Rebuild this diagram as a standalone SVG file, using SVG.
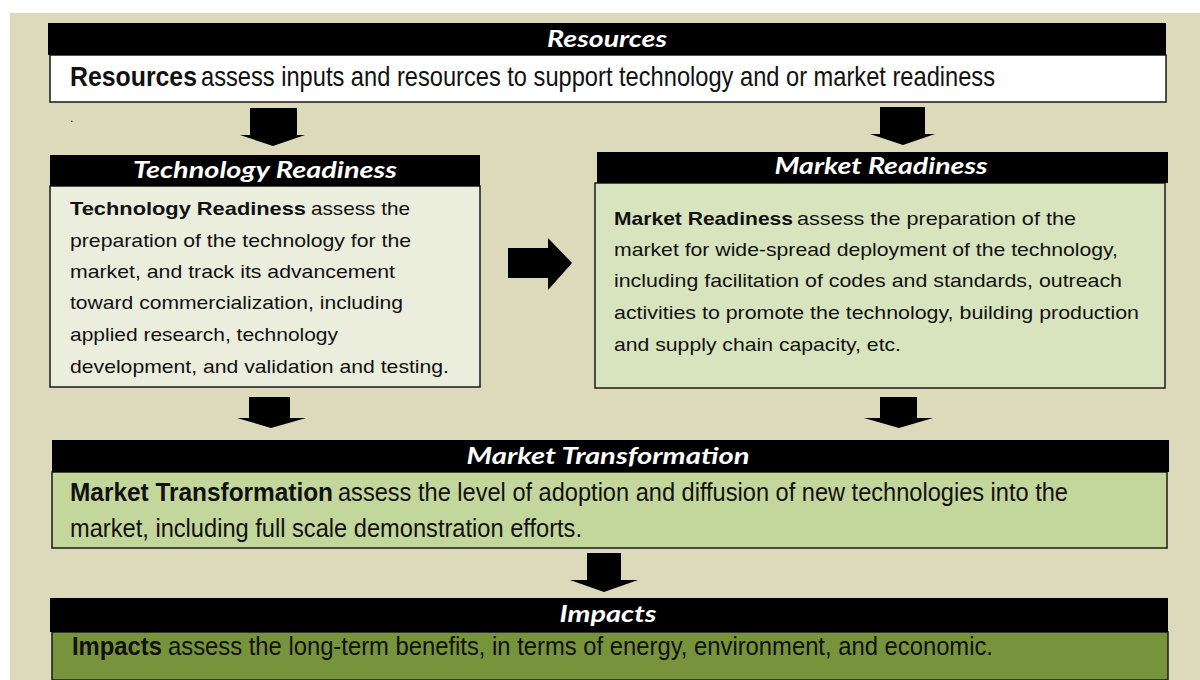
<svg xmlns="http://www.w3.org/2000/svg" width="1200" height="680" viewBox="0 0 1200 680">
<style>
.hdr{fill:#000}
.box{stroke:#1a1a1a;stroke-width:1.5}
.ttl{font-family:Lato,"Open Sans",sans-serif;font-style:italic;font-weight:bold;font-size:22px;fill:#fff;text-anchor:middle}
.b{font-family:"Liberation Sans",Arial,sans-serif;font-weight:bold;fill:#111}
.r{font-family:"Liberation Sans",Arial,sans-serif;fill:#111}
.arr{fill:#000}
</style>
<rect x="0" y="0" width="1200" height="680" fill="#fff"/>
<rect x="10" y="13" width="1190" height="667" fill="#ddd9bb"/>

<g id="connectors">
  <polygon class="arr" points="250,108 297,108 297,135 305,135 273,146 240,135 250,135"/>
  <polygon class="arr" points="880,107 925,107 925,134 935,134 903,145 870,134 880,134"/>
  <polygon class="arr" points="508,248 548,248 548,238 572,263 548,290 548,278 508,278"/>
  <polygon class="arr" points="249,397 290,397 290,418 306,418 271,428 237,418 249,418"/>
  <polygon class="arr" points="880,397 917,397 917,418 933,418 899,428 864,418 880,418"/>
  <polygon class="arr" points="587,553 621,553 621,580 638,580 604,592 570,580 587,580"/>
</g>

<g id="resources">
  <rect class="box" x="50" y="55" width="1116" height="47" fill="#fff"/>
  <rect class="hdr" x="48" y="23" width="1118" height="32"/>
  <text class="ttl" x="607" y="47" textLength="120" lengthAdjust="spacingAndGlyphs">Resources</text>
  <text class="b" x="70" y="86" font-size="28" textLength="127" lengthAdjust="spacingAndGlyphs">Resources</text>
  <text class="r" x="201" y="86" font-size="28" textLength="794" lengthAdjust="spacingAndGlyphs">assess inputs and resources to support technology and or market readiness</text>
  <text class="r" x="70" y="122" font-size="12">.</text>
</g>

<g id="technology-readiness">
  <rect class="box" x="50" y="186" width="430" height="201" fill="#ebeddd"/>
  <rect class="hdr" x="50" y="155" width="430" height="31"/>
  <text class="ttl" x="265" y="178" textLength="264" lengthAdjust="spacingAndGlyphs">Technology Readiness</text>
  <text class="b" x="70" y="215" font-size="19" textLength="236" lengthAdjust="spacingAndGlyphs">Technology Readiness</text>
  <text class="r" x="311" y="215" font-size="19" textLength="99" lengthAdjust="spacingAndGlyphs">assess the</text>
  <text class="r" x="70" y="247" font-size="19" textLength="341" lengthAdjust="spacingAndGlyphs">preparation of the technology for the</text>
  <text class="r" x="70" y="278" font-size="19" textLength="325" lengthAdjust="spacingAndGlyphs">market, and track its advancement</text>
  <text class="r" x="70" y="309" font-size="19" textLength="333" lengthAdjust="spacingAndGlyphs">toward commercialization,  including</text>
  <text class="r" x="70" y="341" font-size="19" textLength="268" lengthAdjust="spacingAndGlyphs">applied research, technology</text>
  <text class="r" x="70" y="373" font-size="19" textLength="379" lengthAdjust="spacingAndGlyphs">development, and validation  and testing.</text>
</g>

<g id="market-readiness">
  <rect class="box" x="595" y="183" width="570" height="205" fill="#d8e4bd"/>
  <rect class="hdr" x="597" y="152" width="571" height="31"/>
  <text class="ttl" x="881" y="174" textLength="213" lengthAdjust="spacingAndGlyphs">Market Readiness</text>
  <text class="b" x="614" y="225" font-size="19" textLength="179" lengthAdjust="spacingAndGlyphs">Market Readiness</text>
  <text class="r" x="797" y="225" font-size="19" textLength="279" lengthAdjust="spacingAndGlyphs">assess  the preparation of the</text>
  <text class="r" x="614" y="256" font-size="19" textLength="504" lengthAdjust="spacingAndGlyphs">market for wide-spread deployment of the technology,</text>
  <text class="r" x="614" y="287" font-size="19" textLength="508" lengthAdjust="spacingAndGlyphs">including facilitation  of codes and standards, outreach</text>
  <text class="r" x="614" y="319" font-size="19" textLength="525" lengthAdjust="spacingAndGlyphs">activities  to promote the technology, building  production</text>
  <text class="r" x="614" y="351" font-size="19" textLength="287" lengthAdjust="spacingAndGlyphs">and supply chain  capacity,  etc.</text>
</g>

<g id="market-transformation">
  <rect class="box" x="52" y="472" width="1115" height="76" fill="#c3d69b"/>
  <rect class="hdr" x="52" y="440" width="1117" height="32"/>
  <text class="ttl" x="608" y="464" textLength="283" lengthAdjust="spacingAndGlyphs">Market Transformation</text>
  <text class="b" x="70" y="501" font-size="26" textLength="263" lengthAdjust="spacingAndGlyphs">Market Transformation</text>
  <text class="r" x="338" y="501" font-size="26" textLength="730" lengthAdjust="spacingAndGlyphs">assess the level of adoption and diffusion of new technologies into the</text>
  <text class="r" x="70" y="537" font-size="26" textLength="512" lengthAdjust="spacingAndGlyphs">market, including full scale demonstration efforts.</text>
</g>

<g id="impacts">
  <rect class="box" x="52" y="632" width="1116" height="48" fill="#77933c"/>
  <rect class="hdr" x="50" y="598" width="1118" height="34"/>
  <text class="ttl" x="608" y="622" textLength="97" lengthAdjust="spacingAndGlyphs">Impacts</text>
  <text class="b" x="72" y="655" font-size="25" textLength="90" lengthAdjust="spacingAndGlyphs">Impacts</text>
  <text class="r" x="168" y="655" font-size="25" textLength="825" lengthAdjust="spacingAndGlyphs">assess the long-term benefits, in terms of energy, environment, and economic.</text>
</g>
</svg>
